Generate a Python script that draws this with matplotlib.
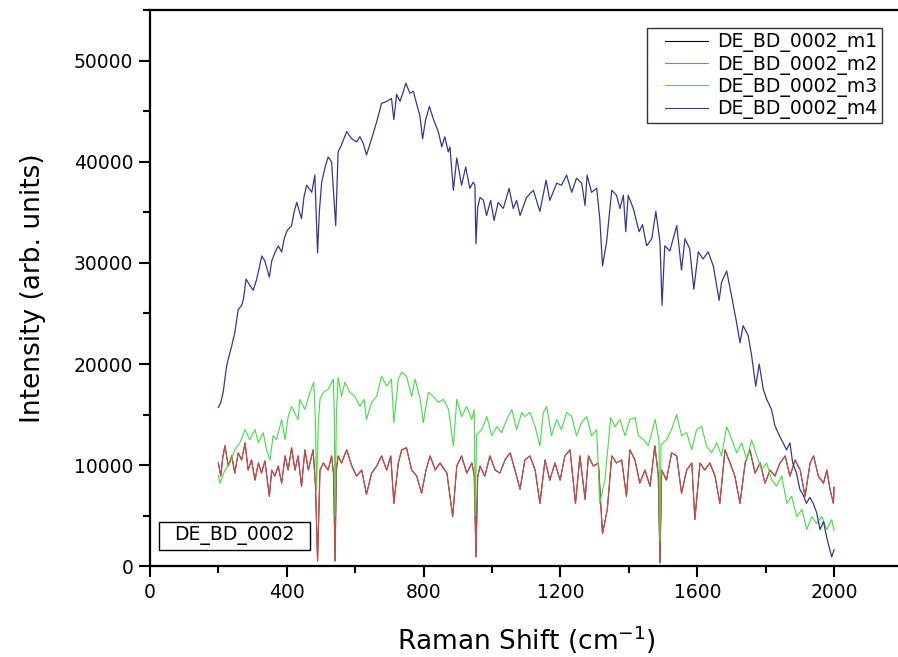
import numpy as np
import matplotlib.pyplot as plt
from matplotlib.ticker import MultipleLocator
from matplotlib.patches import Rectangle

#====================
# Data (Raman shift in cm-1, intensity in arb. units)
#====================

# m4 - the broad, high-fluorescence spectrum
m4_x = [200, 207, 214, 224, 232, 239, 248, 258, 268, 273, 281, 292, 302, 312, 320, 327, 336,
        349, 356, 365, 375, 385, 393, 401, 414, 421, 429, 443, 450, 458, 473, 482, 490, 495,
        502, 512, 521, 531, 543, 550, 560, 575, 590, 604, 614, 624, 633, 648, 663, 677, 692,
        706, 713, 721, 731, 740, 748, 760, 770, 780, 789, 797, 806, 817, 828, 843, 853, 862,
        872, 877, 887, 897, 911, 923, 935, 945, 950, 953, 958, 965, 975, 984, 996, 1006, 1018,
        1033, 1050, 1062, 1072, 1082, 1101, 1121, 1140, 1158, 1169, 1189, 1203, 1218, 1233,
        1247, 1262, 1272, 1278, 1291, 1306, 1315, 1323, 1335, 1350, 1364, 1374, 1384, 1391,
        1398, 1413, 1430, 1440, 1452, 1467, 1479, 1491, 1497, 1505, 1520, 1540, 1554, 1564,
        1578, 1590, 1603, 1617, 1632, 1647, 1664, 1671, 1686, 1700, 1715, 1725, 1734, 1749,
        1759, 1771, 1781, 1793, 1803, 1817, 1827, 1840, 1851, 1861, 1871, 1879, 1890, 1900,
        1910, 1919, 1929, 1939, 1949, 1959, 1969, 1978, 1993, 2000]
m4_y = [15700, 16200, 17200, 19800, 20900, 21800, 23100, 25400, 25800, 26400, 28400, 27800,
        27300, 28400, 29600, 30700, 30200, 28600, 30200, 31000, 31700, 31100, 32500, 33200,
        33700, 35000, 36000, 34400, 36500, 37700, 37000, 38700, 31000, 35000, 38000, 39500,
        40500, 40000, 33700, 41000, 41700, 43000, 42300, 42000, 42500, 41800, 40700, 42300,
        44000, 45800, 46000, 46300, 44200, 46700, 46000, 46900, 47800, 46800, 47000, 45700,
        44600, 42300, 44200, 45500, 44300, 43000, 41500, 42500, 41000, 41500, 37200, 40400,
        37700, 39500, 37400, 38000, 37700, 31900, 35500, 36500, 36200, 34700, 36200, 34200,
        36000, 35400, 37400, 35400, 36200, 34700, 36500, 37200, 35100, 38200, 36200, 37900,
        37700, 38700, 37000, 38400, 37900, 35700, 38700, 37000, 37400, 34400, 29700, 32100,
        37200, 36700, 35400, 36700, 33100, 36700, 35400, 33100, 33800, 31700, 32400, 35100,
        32100, 25800, 31700, 31200, 33700, 29300, 32400, 31400, 27400, 31100, 30400, 31100,
        29700, 26300, 28100, 29200, 26800, 24100, 22100, 23800, 22800, 20800, 17800, 20000,
        17500, 16500, 15500, 13900, 12900, 12200, 11500, 12200, 10200, 9200, 7600, 7000,
        6200, 6800, 6200, 5300, 3600, 4400, 2900, 900, 1600]

# m2 - low spectrum with the sharp negative spikes
m2_x = [200, 207, 213, 219, 229, 239, 248, 258, 268, 278, 287, 297, 307, 317, 326, 336, 349,
        356, 365, 375, 385, 395, 404, 414, 424, 433, 443, 453, 463, 477, 484, 490, 497, 507,
        521, 531, 537, 541, 545, 550, 560, 575, 590, 604, 619, 633, 648, 663, 677, 692, 704,
        713, 726, 736, 750, 765, 780, 794, 807, 819, 834, 848, 868, 885, 897, 911, 926, 941,
        948, 953, 958, 965, 979, 994, 1009, 1023, 1038, 1053, 1067, 1082, 1096, 1111, 1126,
        1140, 1155, 1169, 1184, 1199, 1213, 1228, 1244, 1257, 1272, 1282, 1296, 1311, 1323,
        1337, 1350, 1364, 1379, 1393, 1403, 1418, 1432, 1447, 1462, 1476, 1486, 1491, 1496,
        1510, 1525, 1540, 1554, 1569, 1584, 1593, 1608, 1622, 1637, 1652, 1666, 1681, 1696,
        1710, 1725, 1740, 1754, 1769, 1784, 1798, 1813, 1827, 1842, 1857, 1871, 1886, 1901,
        1915, 1930, 1940, 1954, 1969, 1979, 1988, 1998, 2000]
m2_y = [10200, 8900, 10800, 11900, 9900, 10900, 9200, 11200, 10500, 12200, 9500, 10500, 8500,
        10200, 9200, 10400, 6900, 9500, 8900, 9900, 8200, 10900, 9500, 11700, 9500, 10900,
        7900, 11500, 9500, 11500, 7900, 500, 9500, 10200, 9500, 10900, 9000, 500, 9500, 10900,
        10200, 11500, 9900, 8900, 9500, 7100, 9200, 9900, 10900, 9500, 10900, 6200, 10200,
        11500, 11700, 9500, 8900, 7200, 9500, 10900, 9500, 10200, 9200, 4900, 9900, 10900,
        9200, 10200, 9000, 900, 8800, 9900, 8900, 10900, 9500, 9200, 10500, 11200, 9500, 7600,
        10500, 10900, 9500, 6200, 10500, 8500, 10200, 8500, 10900, 11500, 6200, 10900, 6600,
        10900, 9900, 10200, 3200, 5600, 10900, 10200, 10500, 6900, 11500, 10500, 8200, 9500,
        7900, 11900, 9000, 300, 9500, 8500, 11200, 10900, 7200, 9500, 10200, 4600, 10200,
        9500, 10200, 8900, 6200, 11500, 10200, 8900, 6200, 10200, 11500, 9200, 10200, 8200,
        9500, 8900, 10200, 10900, 8900, 10500, 9500, 6900, 10200, 10900, 8900, 8200, 9500,
        7600, 6200, 7800]

# m1 sits on top of m2 almost exactly
m1_x = list(m2_x)
m1_y = list(m2_y)

# m3 - the green spectrum
m3_x = [200, 205, 219, 234, 248, 263, 278, 292, 307, 317, 331, 341, 351, 360, 370, 385, 395,
        404, 414, 433, 438, 453, 468, 479, 484, 487, 492, 497, 507, 521, 536, 539, 541, 545,
        550, 560, 570, 584, 599, 614, 626, 633, 648, 663, 677, 692, 706, 713, 726, 736, 750,
        765, 775, 790, 799, 814, 828, 843, 858, 873, 887, 897, 911, 926, 941, 948, 951, 955,
        970, 985, 999, 1014, 1028, 1043, 1058, 1072, 1087, 1096, 1111, 1126, 1140, 1150,
        1160, 1174, 1189, 1203, 1218, 1233, 1247, 1262, 1277, 1291, 1306, 1315, 1330, 1347,
        1359, 1374, 1389, 1403, 1418, 1428, 1443, 1457, 1477, 1488, 1491, 1494, 1510, 1525,
        1540, 1554, 1569, 1584, 1598, 1613, 1627, 1642, 1657, 1671, 1686, 1701, 1715, 1730,
        1745, 1759, 1774, 1788, 1803, 1818, 1832, 1847, 1862, 1876, 1891, 1906, 1920, 1935,
        1949, 1964, 1979, 1993, 2000]
m3_y = [9000, 8200, 9500, 10200, 11500, 12200, 13500, 12500, 13500, 12200, 13200, 11500,
        10500, 12900, 12500, 14500, 12500, 14800, 15800, 14500, 16500, 15500, 17200, 18200,
        14000, 7500, 14000, 16500, 17200, 17500, 18500, 15000, 4900, 15000, 18700, 16800,
        18200, 17200, 16800, 15800, 16500, 14500, 16200, 16800, 18800, 17800, 18500, 14200,
        18500, 19200, 18800, 16800, 18500, 16500, 14200, 17200, 16800, 16200, 16500, 15500,
        11900, 16500, 14800, 15800, 14500, 15500, 5000, 13000, 13500, 14800, 12900, 13800,
        13200, 14500, 15500, 13500, 15200, 14800, 15200, 13800, 11900, 15200, 15800, 12900,
        14500, 13500, 15200, 14800, 12900, 14200, 14800, 12900, 13500, 6200, 8500, 14700,
        13800, 14500, 12900, 14500, 14700, 12900, 12500, 11900, 14500, 12500, 2500, 12000,
        12500, 13500, 15000, 12900, 13200, 11500, 13500, 13800, 11900, 11200, 12200, 10900,
        13800, 12500, 11200, 12200, 10500, 12500, 10900, 9500, 10200, 8500, 7900, 8900, 6200,
        6900, 4900, 5600, 3600, 4900, 4200, 4900, 3600, 4600, 3500]

labels = ['DE_BD_0002_m1', 'DE_BD_0002_m2', 'DE_BD_0002_m3', 'DE_BD_0002_m4']
colors = ['black', '#e05050', '#44dd44', '#34398f']

#====================
# Figure
#====================

fig = plt.figure(figsize=(8.98, 6.57), dpi=100)
ax = fig.add_axes([0.167, 0.1385, 0.838, 0.8463])

ax.plot(m1_x, m1_y, color=colors[0], lw=0.7, label=labels[0], zorder=2)
ax.plot(m2_x, m2_y, color=colors[1], lw=0.9, alpha=0.9, label=labels[1], zorder=3)
ax.plot(m3_x, m3_y, color=colors[2], lw=0.8, label=labels[2], zorder=4)
ax.plot(m4_x, m4_y, color=colors[3], lw=0.9, label=labels[3], zorder=5)

ax.set_xlim(0, 2200)
ax.set_ylim(0, 55050)
ax.xaxis.set_major_locator(MultipleLocator(400))
ax.xaxis.set_minor_locator(MultipleLocator(200))
ax.yaxis.set_major_locator(MultipleLocator(10000))
ax.yaxis.set_minor_locator(MultipleLocator(5000))

ax.spines['right'].set_visible(False)
for s in ['left', 'bottom', 'top']:
    ax.spines[s].set_linewidth(1.6)
ax.tick_params(which='major', direction='out', length=8, width=1.5, labelsize=13.5, pad=4)
ax.tick_params(which='minor', direction='out', length=5, width=1.5)
ax.tick_params(top=False, right=False, which='both')

ax.set_xlabel('Raman Shift (cm$^{-1}$)', fontsize=19, labelpad=16)
ax.set_ylabel('Intensity (arb. units)', fontsize=19, labelpad=20)

leg = ax.legend(loc='upper left', bbox_to_anchor=(0.661, 0.967), fontsize=13.5,
                frameon=True, fancybox=False, borderpad=0.22, labelspacing=0.12,
                handlelength=3.0, handletextpad=0.5, borderaxespad=0)
leg.get_frame().set_edgecolor('black')
leg.get_frame().set_linewidth(1.0)
for h in leg.get_lines():
    h.set_linewidth(0.8)
    xd = h.get_xdata()
    h.set_xdata([xd[0] + 0.24 * (xd[-1] - xd[0]), xd[-1]])
    h.set_ydata([h.get_ydata()[0]] * 2)

# sample name box, bottom left
ax.add_patch(Rectangle((0.012, 0.0288), 0.2007, 0.0503, transform=ax.transAxes,
                       fc='white', ec='black', lw=1.0, zorder=6))
ax.text(0.1124, 0.054, 'DE_BD_0002', transform=ax.transAxes, fontsize=13.5,
        va='center', ha='center', zorder=7)

fig.savefig('out.png', dpi=100)
